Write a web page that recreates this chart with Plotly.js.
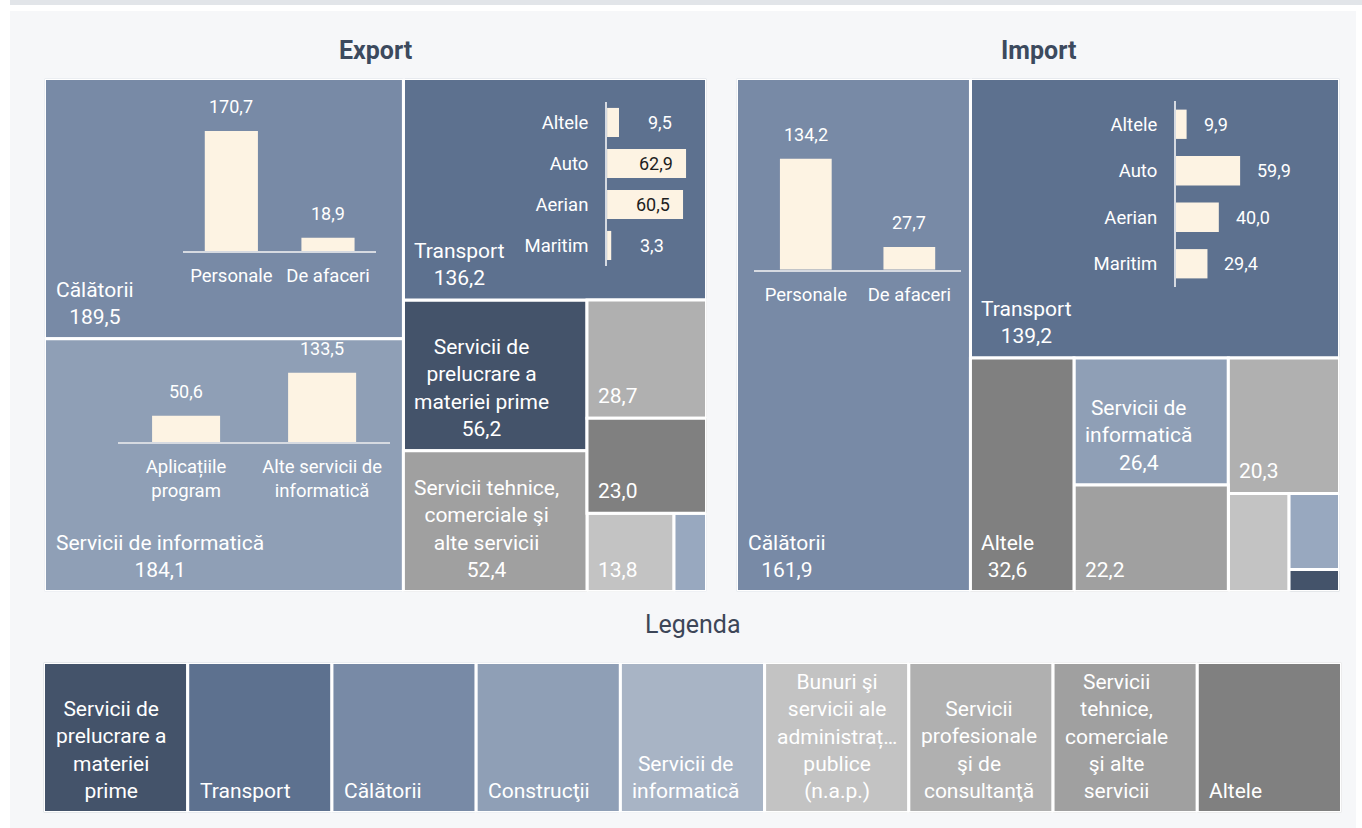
<!DOCTYPE html>
<html><head><meta charset="utf-8">
<script src="https://cdn.plot.ly/plotly-3.0.1.min.js"></script>
<style>html,body{margin:0;padding:0;background:#fff;} #chart{width:1362px;height:828px;}</style>
</head><body><div id="chart"></div>
<script>
// ---------------- data ----------------
const categories = [
  "Servicii de prelucrare a materiei prime", "Transport", "Călătorii", "Construcţii",
  "Servicii de informatică", "Bunuri şi servicii ale administrației publice (n.a.p.)",
  "Servicii profesionale şi de consultanţă", "Servicii tehnice, comerciale şi alte servicii", "Altele"
];
const legendColors = ["#44536a","#5d718f","#788aa6","#8f9fb6","#a8b4c5","#c3c3c3","#b0b0b0","#a0a0a0","#808080"];
const tileColors   = ["#44536a","#5d718f","#788aa6","#98a8bf","#8f9fb6","#c3c3c3","#b0b0b0","#a0a0a0","#808080"];
const exportValues = [56.2, 136.2, 189.5, 5.2, 184.1, 13.8, 28.7, 52.4, 23.0];
const importValues = [1.5, 139.2, 161.9, 5.2, 26.4, 8.0, 20.3, 22.2, 32.6];

const exportTravelCats = ["Personale", "De afaceri"];
const exportTravelValues = [170.7, 18.9];
const exportItCats = ["Aplicațiile program", "Alte servicii de informatică"];
const exportItValues = [50.6, 133.5];
const exportTransportCats = ["Altele", "Auto", "Aerian", "Maritim"];
const exportTransportValues = [9.5, 62.9, 60.5, 3.3];
const importTravelCats = ["Personale", "De afaceri"];
const importTravelValues = [134.2, 27.7];
const importTransportCats = ["Altele", "Auto", "Aerian", "Maritim"];
const importTransportValues = [9.9, 59.9, 40.0, 29.4];

const treeTitles = ["Export", "Import"];
const legendTitle = "Legenda";

// ---------------- helpers ----------------
const W = 1362, H = 828;
const FONT = "Roboto, 'Open Sans', Arial, sans-serif";
const R = 1.4;            // virtual aspect used by the tiling
const TILE_FONT = 21, CAT_FONT = 18.5, VAL_FONT = 18;
const fmt = v => v.toFixed(1).replace('.', ',');
const ctx = document.createElement('canvas').getContext('2d');
function textWidth(s, size) { ctx.font = size + 'px Roboto'; return ctx.measureText(s).width; }
function wrap(text, size, maxW) {
  const words = text.split(' ');
  const lines = []; let cur = '';
  for (const w0 of words) {
    let w = w0;
    if (textWidth(w, size) > maxW) {
      while (w.length > 1 && textWidth(w + '…', size) > maxW) w = w.slice(0, -1);
      w = w + '…';
    }
    const cand = cur ? cur + ' ' + w : w;
    if (!cur || textWidth(cand, size) <= maxW) cur = cand;
    else { lines.push(cur); cur = w; }
  }
  if (cur) lines.push(cur);
  return lines.join('<br>');
}
// squarified tiling (same rule as d3.treemapSquarify, ratio 1)
function squarify(values, x0, y0, x1, y1) {
  const nodes = values.map((v, i) => ({i, value: v})).sort((a, b) => b.value - a.value);
  let value = nodes.reduce((s, n) => s + n.value, 0);
  const out = []; const n = nodes.length; let i0 = 0, i1 = 0;
  while (i0 < n) {
    const dx = x1 - x0, dy = y1 - y0;
    let sumValue = nodes[i1++].value;
    let minV = sumValue, maxV = sumValue;
    const alpha = Math.max(dy / dx, dx / dy) / value;
    let beta = sumValue * sumValue * alpha;
    let minRatio = Math.max(maxV / beta, beta / minV);
    for (; i1 < n; ++i1) {
      const nv = nodes[i1].value;
      sumValue += nv;
      if (nv < minV) minV = nv;
      if (nv > maxV) maxV = nv;
      beta = sumValue * sumValue * alpha;
      const newRatio = Math.max(maxV / beta, beta / minV);
      if (newRatio > minRatio) { sumValue -= nv; break; }
      minRatio = newRatio;
    }
    const row = nodes.slice(i0, i1);
    if (dx < dy) {
      const yy1 = i1 >= n ? y1 : y0 + dy * sumValue / value;
      let xx = x0;
      row.forEach((nd, j) => {
        const e = j === row.length - 1 ? x1 : xx + dx * nd.value / sumValue;
        out[nd.i] = {x0: xx, x1: e, y0: y0, y1: yy1}; xx = e;
      });
      y0 = yy1;
    } else {
      const xx1 = i1 >= n ? x1 : x0 + dx * sumValue / value;
      let yy = y0;
      row.forEach((nd, j) => {
        const e = j === row.length - 1 ? y1 : yy + dy * nd.value / sumValue;
        out[nd.i] = {x0: x0, x1: xx1, y0: yy, y1: e}; yy = e;
      });
      x0 = xx1;
    }
    value -= sumValue; i0 = i1;
  }
  return out;
}

const traces = [], annotations = [];
const layout = {
  width: W, height: H, margin: {l: 0, r: 0, t: 0, b: 0},
  paper_bgcolor: '#ffffff', plot_bgcolor: 'rgba(0,0,0,0)',
  barmode: 'overlay', showlegend: false, font: {family: FONT},
  shapes: [
    {type: 'rect', xref: 'paper', yref: 'paper', x0: 10 / W, x1: 1, y0: 1 - 5 / H, y1: 1, fillcolor: '#e2e5e9', line: {width: 0}, layer: 'below'},
    {type: 'rect', xref: 'paper', yref: 'paper', x0: 10 / W, x1: 1356 / W, y0: 0, y1: 1 - 11 / H, fillcolor: '#f6f7f9', line: {width: 0}, layer: 'below'}
  ],
  annotations: annotations
};
const hidden = {visible: false, showgrid: false, zeroline: false, fixedrange: true};

// ---------------- treemaps ----------------
const trees = [
  {values: exportValues, dom: {x0: 44.5, x1: 706.5, y0: 78.5, y1: 591.5}, ax: ''},
  {values: importValues, dom: {x0: 736.5, x1: 1339.5, y0: 78.5, y1: 591.5}, ax: '2'}
];
trees.forEach((t, ti) => {
  const xa = 'x' + t.ax, ya = 'y' + t.ax;
  const d = t.dom;
  layout['xaxis' + t.ax] = Object.assign({}, hidden, {domain: [d.x0 / W, d.x1 / W], range: [0, R], anchor: ya});
  layout['yaxis' + t.ax] = Object.assign({}, hidden, {domain: [1 - d.y1 / H, 1 - d.y0 / H], range: [1, 0], anchor: xa});
  const rects = squarify(t.values, 0, 0, R, 1);
  traces.push({
    type: 'bar', xaxis: xa, yaxis: ya,
    x: rects.map(r => (r.x0 + r.x1) / 2), width: rects.map(r => r.x1 - r.x0),
    base: rects.map(r => r.y0), y: rects.map(r => r.y1 - r.y0),
    marker: {color: tileColors, line: {color: '#ffffff', width: 3}},
    hoverinfo: 'skip'
  });
  const total = t.values.reduce((a, b) => a + b, 0);
  t.px = rects.map(r => {
    const x0 = d.x0 + r.x0 / R * (d.x1 - d.x0), x1 = d.x0 + r.x1 / R * (d.x1 - d.x0);
    const y0 = d.y0 + r.y0 * (d.y1 - d.y0), y1 = d.y0 + r.y1 * (d.y1 - d.y0);
    return {x0, x1, y0, y1, w: x1 - x0, h: y1 - y0};
  });
  rects.forEach((r, i) => {
    const share = t.values[i] / total;
    let txt = null;
    if (share >= 0.06) txt = wrap(categories[i], TILE_FONT, t.px[i].w - 22) + '<br>' + fmt(t.values[i]);
    else if (share >= 0.0195) txt = fmt(t.values[i]);
    if (txt) annotations.push({
      xref: xa, yref: ya, x: r.x0, y: Math.min(r.y1, 0.999999), text: txt, showarrow: false,
      xanchor: 'left', yanchor: 'bottom', align: 'center', xshift: 9, yshift: 8,
      font: {family: FONT, size: TILE_FONT, color: '#ffffff'}
    });
  });
  annotations.push({
    xref: 'paper', yref: 'paper', x: (d.x0 + d.x1) / 2 / W, y: 1 - 50 / H, text: treeTitles[ti],
    showarrow: false, xanchor: 'center', yanchor: 'middle',
    font: {family: FONT, size: 25, color: '#3c4a5e', weight: 700}
  });
});

// ---------------- mini charts inside tiles ----------------
const minis = [
  {tree: 0, cat: 2, dir: 'v', cats: exportTravelCats, vals: exportTravelValues, fx: [0.386, 0.9245], fy: [0.10, 0.663], vmax: 208.4, bw: 0.55},
  {tree: 0, cat: 4, dir: 'v', cats: exportItCats, vals: exportItValues, fx: [0.205, 0.963], fy: [0.05, 0.409], vmax: 174.5, bw: 0.5},
  {tree: 1, cat: 2, dir: 'v', cats: importTravelCats, vals: importTravelValues, fx: [0.075, 0.96], fy: [0.06, 0.373], vmax: 194, bw: 0.5},
  {tree: 0, cat: 1, dir: 'h', cats: exportTransportCats, vals: exportTransportValues, fx: [0.672, 0.9785], fy: [0.106, 0.8465], vmax: 74, bw: 0.71, inside: true, gap: 27},
  {tree: 1, cat: 1, dir: 'h', cats: importTransportCats, vals: importTransportValues, fx: [0.557, 0.974], fy: [0.0805, 0.7457], vmax: 143.8, bw: 0.63, inside: false, gap: 15}
];
const lineColor = '#d6dae1';
minis.forEach((m, mi) => {
  const k = mi + 4, xa = 'x' + k, ya = 'y' + k;
  const r = trees[m.tree].px[m.cat];
  const pxL = r.x0 + m.fx[0] * r.w, pxR = r.x0 + m.fx[1] * r.w;
  const pyT = r.y0 + m.fy[0] * r.h, pyB = r.y0 + m.fy[1] * r.h;
  const idx = m.cats.map((c, i) => i);
  const tf = {family: FONT, size: CAT_FONT, color: '#ffffff'};
  const vf = {family: FONT, size: VAL_FONT, color: '#ffffff'};
  if (m.dir === 'v') {
    const pitch = (pxR - pxL) / m.cats.length;
    layout['xaxis' + k] = {domain: [pxL / W, pxR / W], anchor: ya, range: [-0.5, m.cats.length - 0.5],
      tickvals: idx, ticktext: m.cats.map(c => wrap(c, CAT_FONT, pitch - 4)), showline: true, linecolor: lineColor, linewidth: 2,
      ticks: '', showgrid: false, zeroline: false, tickfont: tf, ticklabelstandoff: 7, tickangle: 0, fixedrange: true};
    layout['yaxis' + k] = Object.assign({}, hidden, {domain: [1 - pyB / H, 1 - pyT / H], anchor: xa, range: [0, m.vmax]});
    traces.push({type: 'bar', xaxis: xa, yaxis: ya, x: idx, y: m.vals, width: m.bw,
      marker: {color: '#fdf3e3', line: {width: 0}}, hoverinfo: 'skip'});
    m.vals.forEach((v, i) => annotations.push({xref: xa, yref: ya, x: i, y: v, text: fmt(v), showarrow: false,
      xanchor: 'center', yanchor: 'bottom', yshift: 12, font: vf}));
  } else {
    const ppu = (pxR - pxL) / m.vmax;
    layout['xaxis' + k] = Object.assign({}, hidden, {domain: [pxL / W, pxR / W], anchor: ya, range: [0, m.vmax]});
    layout['yaxis' + k] = {domain: [1 - pyB / H, 1 - pyT / H], anchor: xa, range: [m.cats.length - 0.5, -0.5],
      tickvals: idx, ticktext: m.cats, showline: true, linecolor: lineColor, linewidth: 2,
      ticks: '', showgrid: false, zeroline: false, tickfont: tf, ticklabelstandoff: 13, fixedrange: true};
    traces.push({type: 'bar', orientation: 'h', xaxis: xa, yaxis: ya, x: m.vals, y: idx, width: m.bw,
      marker: {color: '#fdf3e3', line: {width: 0}}, hoverinfo: 'skip'});
    m.vals.forEach((v, i) => {
      const inside = m.inside && v * ppu > 50;
      annotations.push({xref: xa, yref: ya, x: v, y: i, text: fmt(v), showarrow: false,
        xanchor: inside ? 'right' : 'left', yanchor: 'middle', xshift: inside ? -11 : m.gap,
        font: {family: FONT, size: VAL_FONT, color: inside ? '#1e1e1e' : '#ffffff'}});
    });
  }
});

// ---------------- legend ----------------
const lg = {x0: 43.5, x1: 1341.5, y0: 662.5, y1: 812.5};
layout.xaxis3 = Object.assign({}, hidden, {domain: [lg.x0 / W, lg.x1 / W], anchor: 'y3', range: [-0.5, categories.length - 0.5]});
layout.yaxis3 = Object.assign({}, hidden, {domain: [1 - lg.y1 / H, 1 - lg.y0 / H], anchor: 'x3', range: [0, 1]});
traces.push({type: 'bar', xaxis: 'x3', yaxis: 'y3', x: categories.map((c, i) => i), y: categories.map(() => 1),
  width: 1, marker: {color: legendColors, line: {color: '#ffffff', width: 3}}, hoverinfo: 'skip'});
const boxW = (lg.x1 - lg.x0) / categories.length;
categories.forEach((c, i) => annotations.push({xref: 'x3', yref: 'y3', x: i - 0.5, y: 0.000001, text: wrap(c, TILE_FONT, boxW - 23),
  showarrow: false, xanchor: 'left', yanchor: 'bottom', align: 'center', xshift: 10, yshift: 8,
  font: {family: FONT, size: TILE_FONT, color: '#ffffff'}}));
annotations.push({xref: 'paper', yref: 'paper', x: 693 / W, y: 1 - 624 / H, text: legendTitle, showarrow: false,
  xanchor: 'center', yanchor: 'middle', font: {family: FONT, size: 25, color: '#3d4658'}});

Plotly.newPlot('chart', traces, layout, {displayModeBar: false, staticPlot: true});
</script>
</body></html>
